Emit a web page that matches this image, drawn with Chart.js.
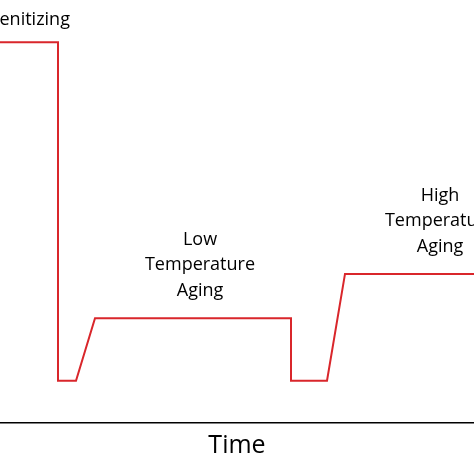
<!DOCTYPE html>
<html><head><meta charset="utf-8">
<script src="https://cdn.jsdelivr.net/npm/chart.js@4"></script>
<style>html,body{margin:0;padding:0;background:#fff}#w{width:474px;height:474px}</style>
</head><body><div id="w"><canvas id="c"></canvas></div>
<script>
const timeX = [0, 58, 58, 76, 95, 291, 291, 327, 345, 474];
const tempY = [378, 378, 42, 42, 104, 104, 42, 42, 148, 148];
const labelTexts = [["Austenitizing"], ["Low", "Temperature", "Aging"], ["High", "Temperature", "Aging"]];
const labelX = [16, 200, 440];
const labelY = [400, 182, 226];

const textPlugin = {
  id: 'texts',
  afterDatasetsDraw(chart) {
    const {ctx, scales: {x, y}} = chart;
    ctx.save();
    ctx.fillStyle = '#000';
    ctx.font = '18px "Open Sans", Arial, sans-serif';
    ctx.textAlign = 'center';
    ctx.textBaseline = 'middle';
    labelTexts.forEach((lines, i) => {
      const px = x.getPixelForValue(labelX[i]);
      const py = y.getPixelForValue(labelY[i]);
      lines.forEach((t, j) => ctx.fillText(t, px, py + j * 25.5));
    });
    ctx.restore();
  }
};

new Chart(document.getElementById('c'), {
  type: 'line',
  data: { datasets: [{
    data: timeX.map((v, i) => ({x: v, y: tempY[i]})),
    borderColor: '#d9262b', borderWidth: 2, pointRadius: 0, tension: 0, fill: false
  }]},
  options: {
    responsive: true, maintainAspectRatio: false, animation: false,
    layout: { padding: { left: 0, right: 0, top: 0, bottom: 9 } },
    plugins: { legend: { display: false }, tooltip: { enabled: false } },
    scales: {
      x: { type: 'linear', min: 0, max: 474,
        ticks: { display: false }, grid: { display: false, drawTicks: false },
        border: { display: true, color: '#000', width: 1.5 },
        title: { display: true, text: 'Time', color: '#000',
          font: { size: 25, family: '"Open Sans", Arial, sans-serif' }, padding: { top: 8, bottom: 4 } } },
      y: { display: false, min: 0, max: 420 }
    }
  },
  plugins: [textPlugin]
});
</script></body></html>
